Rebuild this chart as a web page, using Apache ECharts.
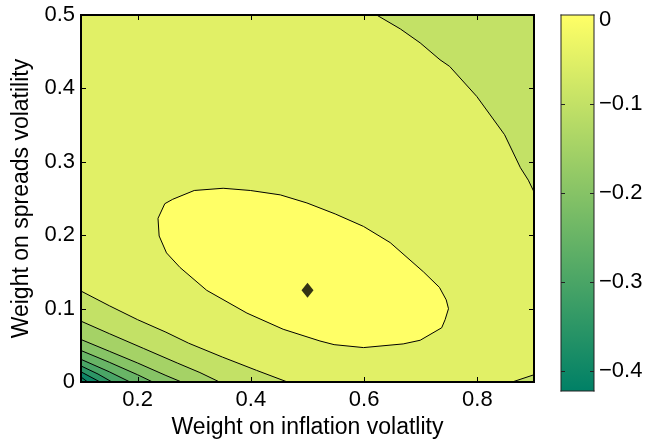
<!DOCTYPE html>
<html>
<head>
<meta charset="utf-8">
<script src="https://cdn.jsdelivr.net/npm/echarts@6/dist/echarts.min.js"></script>
<style>
  html, body { margin: 0; padding: 0; background: #fff; }
  #chart { width: 646px; height: 444px; }
</style>
</head>
<body>
<div id="chart"></div>
<script>
// axes
const xRange = [0.1, 0.9]
const yRange = [0, 0.5]
const xTicks = [0.2, 0.4, 0.6, 0.8]
const yTicks = [0, 0.1, 0.2, 0.3, 0.4, 0.5]
const cRange = [-0.423, 0]
const cTicks = [0, -0.1, -0.2, -0.3, -0.4]

// value of each filled band, from the inner ellipse outwards
const levels = [0, -0.05, -0.1, -0.15, -0.2, -0.25, -0.3, -0.35, -0.4]

// contour lines, [x, y]
const ellipse = [
  [0.236, 0.223], [0.238, 0.199], [0.251, 0.176], [0.275, 0.156], [0.322, 0.125],
  [0.393, 0.094], [0.457, 0.072], [0.522, 0.056], [0.547, 0.051], [0.599, 0.047],
  [0.669, 0.052], [0.699, 0.057], [0.737, 0.074], [0.743, 0.085], [0.749, 0.100],
  [0.745, 0.112], [0.733, 0.129], [0.705, 0.150], [0.646, 0.190], [0.599, 0.212],
  [0.549, 0.229], [0.499, 0.244], [0.452, 0.255], [0.399, 0.261], [0.351, 0.264],
  [0.300, 0.261], [0.262, 0.249], [0.248, 0.243]
]
const upperRight = [
  [0.622, 0.5], [0.664, 0.481], [0.699, 0.462], [0.734, 0.439], [0.751, 0.430],
  [0.799, 0.389], [0.848, 0.337], [0.876, 0.292], [0.890, 0.275], [0.9, 0.259]
]
const lowerRight = [[0.861, 0], [0.9, 0.010]]
const lowerLeft = [
  [[0.1, 0.124], [0.15, 0.104], [0.2, 0.085], [0.25, 0.068], [0.29, 0.053], [0.35, 0.034], [0.41, 0.016], [0.465, 0]],
  [[0.1, 0.083], [0.15, 0.066], [0.21, 0.046], [0.27, 0.026], [0.31, 0.013], [0.345, 0]],
  [[0.1, 0.058], [0.15, 0.042], [0.2, 0.026], [0.25, 0.009], [0.278, 0]],
  [[0.1, 0.043], [0.15, 0.027], [0.2, 0.010], [0.227, 0]],
  [[0.1, 0.031], [0.15, 0.014], [0.187, 0]],
  [[0.1, 0.022], [0.13, 0.011], [0.155, 0]],
  [[0.1, 0.014], [0.134, 0]],
  [[0.1, 0.007], [0.112, 0]]
]
const optimum = [[0.5, 0.125]]

// MATLAB "summer" colormap over the colour range
function summer(v) {
  const t = Math.max(0, Math.min(1, (v - cRange[0]) / (cRange[1] - cRange[0])))
  return 'rgb(' + Math.round(255 * t) + ',' + Math.round(255 * (0.5 + 0.5 * t)) + ',102)'
}

// filled regions, painted in order
const regions = [
  { pts: [[xRange[0], yRange[0]], [xRange[1], yRange[0]], [xRange[1], yRange[1]], [xRange[0], yRange[1]]], level: levels[1] },
  { pts: upperRight.concat([[xRange[1], yRange[1]]]), level: levels[2] },
  { pts: lowerRight.concat([[xRange[1], yRange[0]]]), level: levels[2] }
]
lowerLeft.forEach((line, i) => {
  regions.push({ pts: line.concat([[xRange[0], yRange[0]]]), level: levels[i + 2] })
})
regions.push({ pts: ellipse, level: levels[0] })

const contours = [ellipse.concat([ellipse[0]]), upperRight, lowerRight].concat(lowerLeft)

const font = 'Liberation Sans'
const minus = v => (v < 0 ? '\u2212' + String(-v) : '{top|' + v + '}')

// box edges and inward ticks as thin filled pixel rectangles [x, y, w, h]
function frameRects(api, xr, yr, xt, yt, len, w) {
  const a = api.coord([xr[0], yr[1]])
  const b = api.coord([xr[1], yr[0]])
  const x0 = Math.round(a[0]), y0 = Math.round(a[1])
  const x1 = Math.round(b[0]), y1 = Math.round(b[1])
  const h = w / 2
  const out = [
    [x0 - h, y0 - h, x1 - x0 + w, w],
    [x0 - h, y1 - h, x1 - x0 + w, w],
    [x0 - h, y0 - h, w, y1 - y0 + w],
    [x1 - h, y0 - h, w, y1 - y0 + w]
  ]
  xt.forEach(v => {
    const x = Math.round(api.coord([v, yr[0]])[0])
    out.push([x, y1 - len, 1, len])
    out.push([x, y0, 1, len])
  })
  yt.forEach(v => {
    const y = Math.round(api.coord([xr[0], v])[1])
    out.push([x0, y, len, 1])
    out.push([x1 - len, y, len, 1])
  })
  return out
}
const rectPolygon = r => [[r[0], r[1]], [r[0] + r[2], r[1]], [r[0] + r[2], r[1] + r[3]], [r[0], r[1] + r[3]]]

const plotFrameCount = 4 + 2 * xTicks.length + 2 * yTicks.length
const barFrameCount = 4 + 2 * (cTicks.length - 1)

const plainAxis = extra => Object.assign({
  type: 'value',
  axisLine: { show: false },
  axisTick: { show: false },
  axisLabel: { show: false },
  splitLine: { show: false }
}, extra)

const chart = echarts.init(document.getElementById('chart'))
chart.setOption({
  animation: false,
  backgroundColor: '#fff',
  textStyle: { fontFamily: font },
  grid: [
    { left: 81, top: 15, width: 453, height: 374 },
    { left: 561, top: 15, width: 33, height: 376 }
  ],
  xAxis: [
    plainAxis({
      gridIndex: 0, min: xRange[0], max: xRange[1], position: 'bottom',
      name: 'Weight on inflation volatlity', nameLocation: 'middle', nameGap: 30,
      nameTextStyle: { fontSize: 23, color: '#000', fontFamily: font },
      axisLine: { show: true, onZero: false, lineStyle: { color: '#000', width: 2 } },
      axisLabel: { show: true, customValues: xTicks, fontSize: 22, color: '#000', margin: 7, fontFamily: font }
    }),
    plainAxis({ gridIndex: 1, min: 0, max: 1, position: 'bottom' })
  ],
  yAxis: [
    plainAxis({
      gridIndex: 0, min: yRange[0], max: yRange[1], interval: 0.1, position: 'left',
      name: 'Weight on spreads volatility', nameLocation: 'middle', nameGap: 46,
      nameTextStyle: { fontSize: 23, color: '#000', fontFamily: font },
      axisLine: { show: true, onZero: false, lineStyle: { color: '#000', width: 2 } },
      axisLabel: { show: true, customValues: yTicks, fontSize: 22, color: '#000', margin: 6, fontFamily: font }
    }),
    plainAxis({
      gridIndex: 1, min: cRange[0], max: cRange[1], position: 'right',
      axisLabel: {
        show: true, customValues: cTicks, formatter: minus, fontSize: 22, color: '#000', margin: 5, fontFamily: font,
        rich: { top: { fontSize: 22, fontFamily: font, color: '#000', padding: [9, 0, 0, 0] } }
      }
    })
  ],
  series: [
    {
      // filled bands, then the plot box and ticks
      type: 'custom', xAxisIndex: 0, yAxisIndex: 0, silent: true, z: 1,
      data: regions.map(r => [r.pts[0][0], r.pts[0][1]])
        .concat(Array.from({ length: plotFrameCount }, () => [xRange[0], yRange[0]])),
      renderItem: (params, api) => {
        const i = params.dataIndex
        if (i < regions.length) {
          const r = regions[i]
          return {
            type: 'polygon',
            shape: { points: r.pts.map(p => api.coord(p)) },
            style: { fill: summer(r.level), stroke: null }
          }
        }
        const rect = frameRects(api, xRange, yRange, xTicks, yTicks, 5, 2)[i - regions.length]
        return {
          type: 'polygon', z2: 50,
          shape: { points: rectPolygon(rect) },
          style: { fill: '#000', stroke: null }
        }
      }
    },
    {
      type: 'custom', xAxisIndex: 0, yAxisIndex: 0, silent: true, z: 2,
      data: contours.map(c => [c[0][0], c[0][1]]),
      renderItem: (params, api) => ({
        type: 'polyline',
        shape: { points: contours[params.dataIndex].map(p => api.coord(p)) },
        style: { stroke: '#000', lineWidth: 1, fill: null }
      })
    },
    {
      type: 'scatter', xAxisIndex: 0, yAxisIndex: 0, silent: true, z: 3,
      symbol: 'diamond', symbolSize: [12, 15],
      itemStyle: { color: '#000' },
      data: optimum
    },
    {
      // colour bar, then its box and ticks
      type: 'custom', xAxisIndex: 1, yAxisIndex: 1, silent: true, z: 1,
      data: Array.from({ length: 1 + barFrameCount }, () => [0, cRange[1]]),
      renderItem: (params, api) => {
        const i = params.dataIndex
        if (i === 0) {
          const p0 = api.coord([0, cRange[1]])
          const p1 = api.coord([1, cRange[0]])
          return {
            type: 'rect',
            shape: { x: p0[0], y: p0[1], width: p1[0] - p0[0], height: p1[1] - p0[1] },
            style: {
              fill: new echarts.graphic.LinearGradient(0, 0, 0, 1, [
                { offset: 0, color: summer(cRange[1]) },
                { offset: 1, color: summer(cRange[0]) }
              ])
            }
          }
        }
        const rect = frameRects(api, [0, 1], cRange, [], cTicks.slice(1), 4, 1)[i - 1]
        return {
          type: 'polygon', z2: 50,
          shape: { points: rectPolygon(rect) },
          style: { fill: '#222', stroke: null }
        }
      }
    }
  ]
})
</script>
</body>
</html>
